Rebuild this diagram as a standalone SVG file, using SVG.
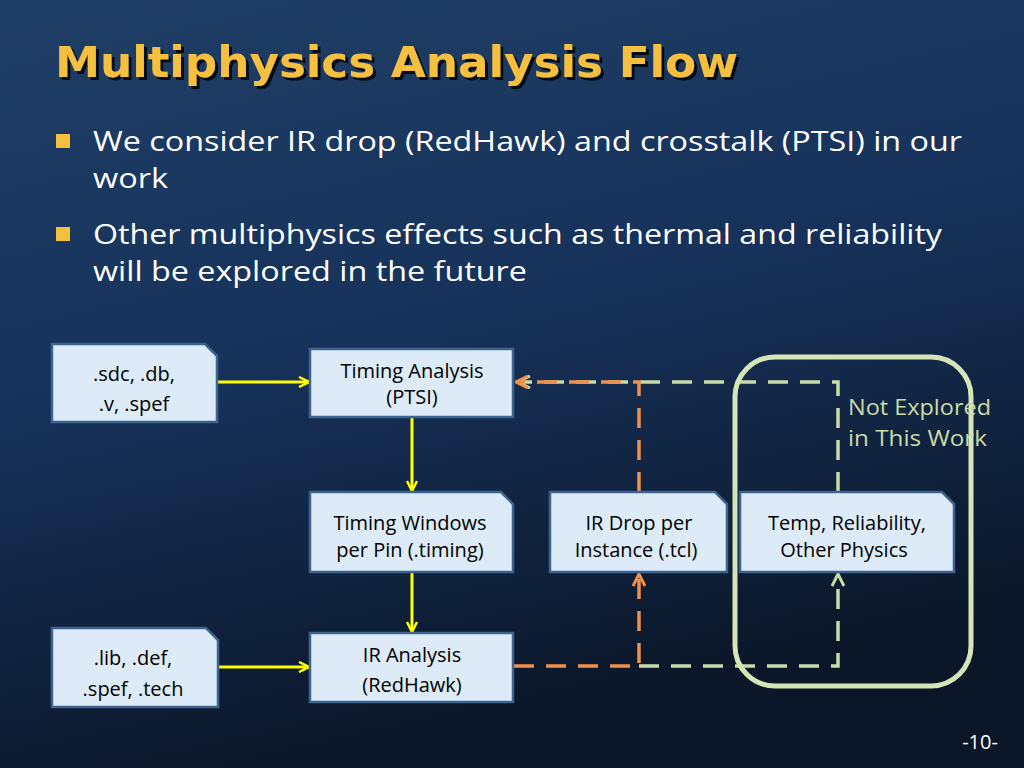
<svg xmlns="http://www.w3.org/2000/svg" width="1024" height="768" viewBox="0 0 1024 768">
<defs>
<linearGradient id="bg" x1="0" y1="0" x2="0.3" y2="1">
<stop offset="0" stop-color="#1f3e66"/><stop offset="0.5" stop-color="#16325a"/><stop offset="1" stop-color="#0b1628"/>
</linearGradient>
<filter id="sh" x="-5%" y="-20%" width="110%" height="140%"><feDropShadow dx="3" dy="3" stdDeviation="0.5" flood-color="#000" flood-opacity="0.8"/></filter>
<marker id="ay" viewBox="0 0 12 12" refX="11" refY="6" markerWidth="12" markerHeight="12" markerUnits="userSpaceOnUse" orient="auto"><path d="M1,1 L11,6 L1,11" fill="none" stroke="#ffff00" stroke-width="2.5"/></marker>
<marker id="ao" viewBox="0 0 14 14" refX="13" refY="7" markerWidth="14" markerHeight="14" markerUnits="userSpaceOnUse" orient="auto"><path d="M1,1 L13,7 L1,13" fill="none" stroke="#f0904a" stroke-width="3"/></marker>
<marker id="ag" viewBox="0 0 14 14" refX="13" refY="7" markerWidth="14" markerHeight="14" markerUnits="userSpaceOnUse" orient="auto"><path d="M1,1 L13,7 L1,13" fill="none" stroke="#c8dca8" stroke-width="3"/></marker>
</defs>
<style>
.n{fill:#dcebf7;stroke:#3c6491;stroke-width:2.5}
.t{font-family:"Open Sans","Liberation Sans",sans-serif;font-size:20px;fill:#000;text-anchor:middle}
.b{font-family:"Open Sans","Liberation Sans",sans-serif;font-size:28px;fill:#fff}
.y{stroke:#ffff00;stroke-width:3;fill:none}
.o{stroke:#f0904a;stroke-width:3.5;fill:none;stroke-dasharray:20,12}
.g{stroke:#c8dca8;stroke-width:3.5;fill:none;stroke-dasharray:20,12}
</style>
<rect width="1024" height="768" fill="url(#bg)"/>
<text x="55" y="77" font-family="DejaVu Sans,Verdana,sans-serif" font-weight="bold" font-size="42" fill="#f5c040" textLength="683" lengthAdjust="spacingAndGlyphs" filter="url(#sh)">Multiphysics Analysis Flow</text>
<rect x="56" y="134" width="14" height="14" fill="#f5c040"/>
<rect x="56" y="227" width="14" height="14" fill="#f5c040"/>
<text class="b" x="93" y="151" textLength="869" lengthAdjust="spacingAndGlyphs">We consider IR drop (RedHawk) and crosstalk (PTSI) in our</text>
<text class="b" x="93" y="188" textLength="75" lengthAdjust="spacingAndGlyphs">work</text>
<text class="b" x="93" y="244" textLength="849" lengthAdjust="spacingAndGlyphs">Other multiphysics effects such as thermal and reliability</text>
<text class="b" x="93" y="281" textLength="434" lengthAdjust="spacingAndGlyphs">will be explored in the future</text>
<g id="connectors">
<path class="y" d="M217,382 H309" marker-end="url(#ay)"/>
<path class="y" d="M412,417 V491" marker-end="url(#ay)"/>
<path class="y" d="M412,572 V632" marker-end="url(#ay)"/>
<path class="y" d="M218,667 H309" marker-end="url(#ay)"/>
<path class="g" d="M838,492 V382 H518" marker-end="url(#ag)"/>
<path class="g" d="M639,666 H838 V574" marker-end="url(#ag)"/>
<path class="o" d="M639,492 V382 H516" marker-end="url(#ao)"/>
<path class="o" d="M514,666 H639 V574" marker-end="url(#ao)"/>
</g>
<rect x="735" y="357" width="236" height="329" rx="40" fill="none" stroke="#d5e5b8" stroke-width="5"/>
<text x="848" y="415" font-family="Open Sans,Liberation Sans,sans-serif" font-size="22" fill="#c8dca8" textLength="143" lengthAdjust="spacingAndGlyphs">Not Explored</text>
<text x="848" y="446" font-family="Open Sans,Liberation Sans,sans-serif" font-size="22" fill="#c8dca8" textLength="139" lengthAdjust="spacingAndGlyphs">in This Work</text>
<g id="n1"><path class="n" d="M52,344 H205 L217,356 V422 H52 Z"/><text class="t" x="134" y="381" font-size="23">.sdc, .db,</text><text class="t" x="134" y="411" font-size="23">.v, .spef</text></g>
<g id="n2"><rect class="n" x="310" y="349" width="203" height="68"/><text class="t" x="412" y="378">Timing Analysis</text><text class="t" x="412" y="404">(PTSI)</text></g>
<g id="n3"><path class="n" d="M310,492 H501 L513,504 V572 H310 Z"/><text class="t" x="410" y="530">Timing Windows</text><text class="t" x="410" y="557">per Pin (.timing)</text></g>
<g id="n4"><path class="n" d="M550,492 H715 L727,504 V572 H550 Z"/><text class="t" x="639" y="530">IR Drop per</text><text class="t" x="636" y="557">Instance (.tcl)</text></g>
<g id="n5"><path class="n" d="M740,492 H942 L954,504 V572 H740 Z"/><text class="t" x="847" y="530">Temp, Reliability,</text><text class="t" x="844" y="557">Other Physics</text></g>
<g id="n6"><path class="n" d="M52,628 H206 L218,640 V707 H52 Z"/><text class="t" x="133" y="665" font-size="23">.lib, .def,</text><text class="t" x="133" y="696" font-size="23">.spef, .tech</text></g>
<g id="n7"><rect class="n" x="310" y="633" width="203" height="69"/><text class="t" x="412" y="662" font-size="23">IR Analysis</text><text class="t" x="412" y="692" font-size="23">(RedHawk)</text></g>
<text x="980" y="749" font-family="Open Sans,Liberation Sans,sans-serif" font-size="20" fill="#fff" text-anchor="middle">-10-</text>
</svg>
